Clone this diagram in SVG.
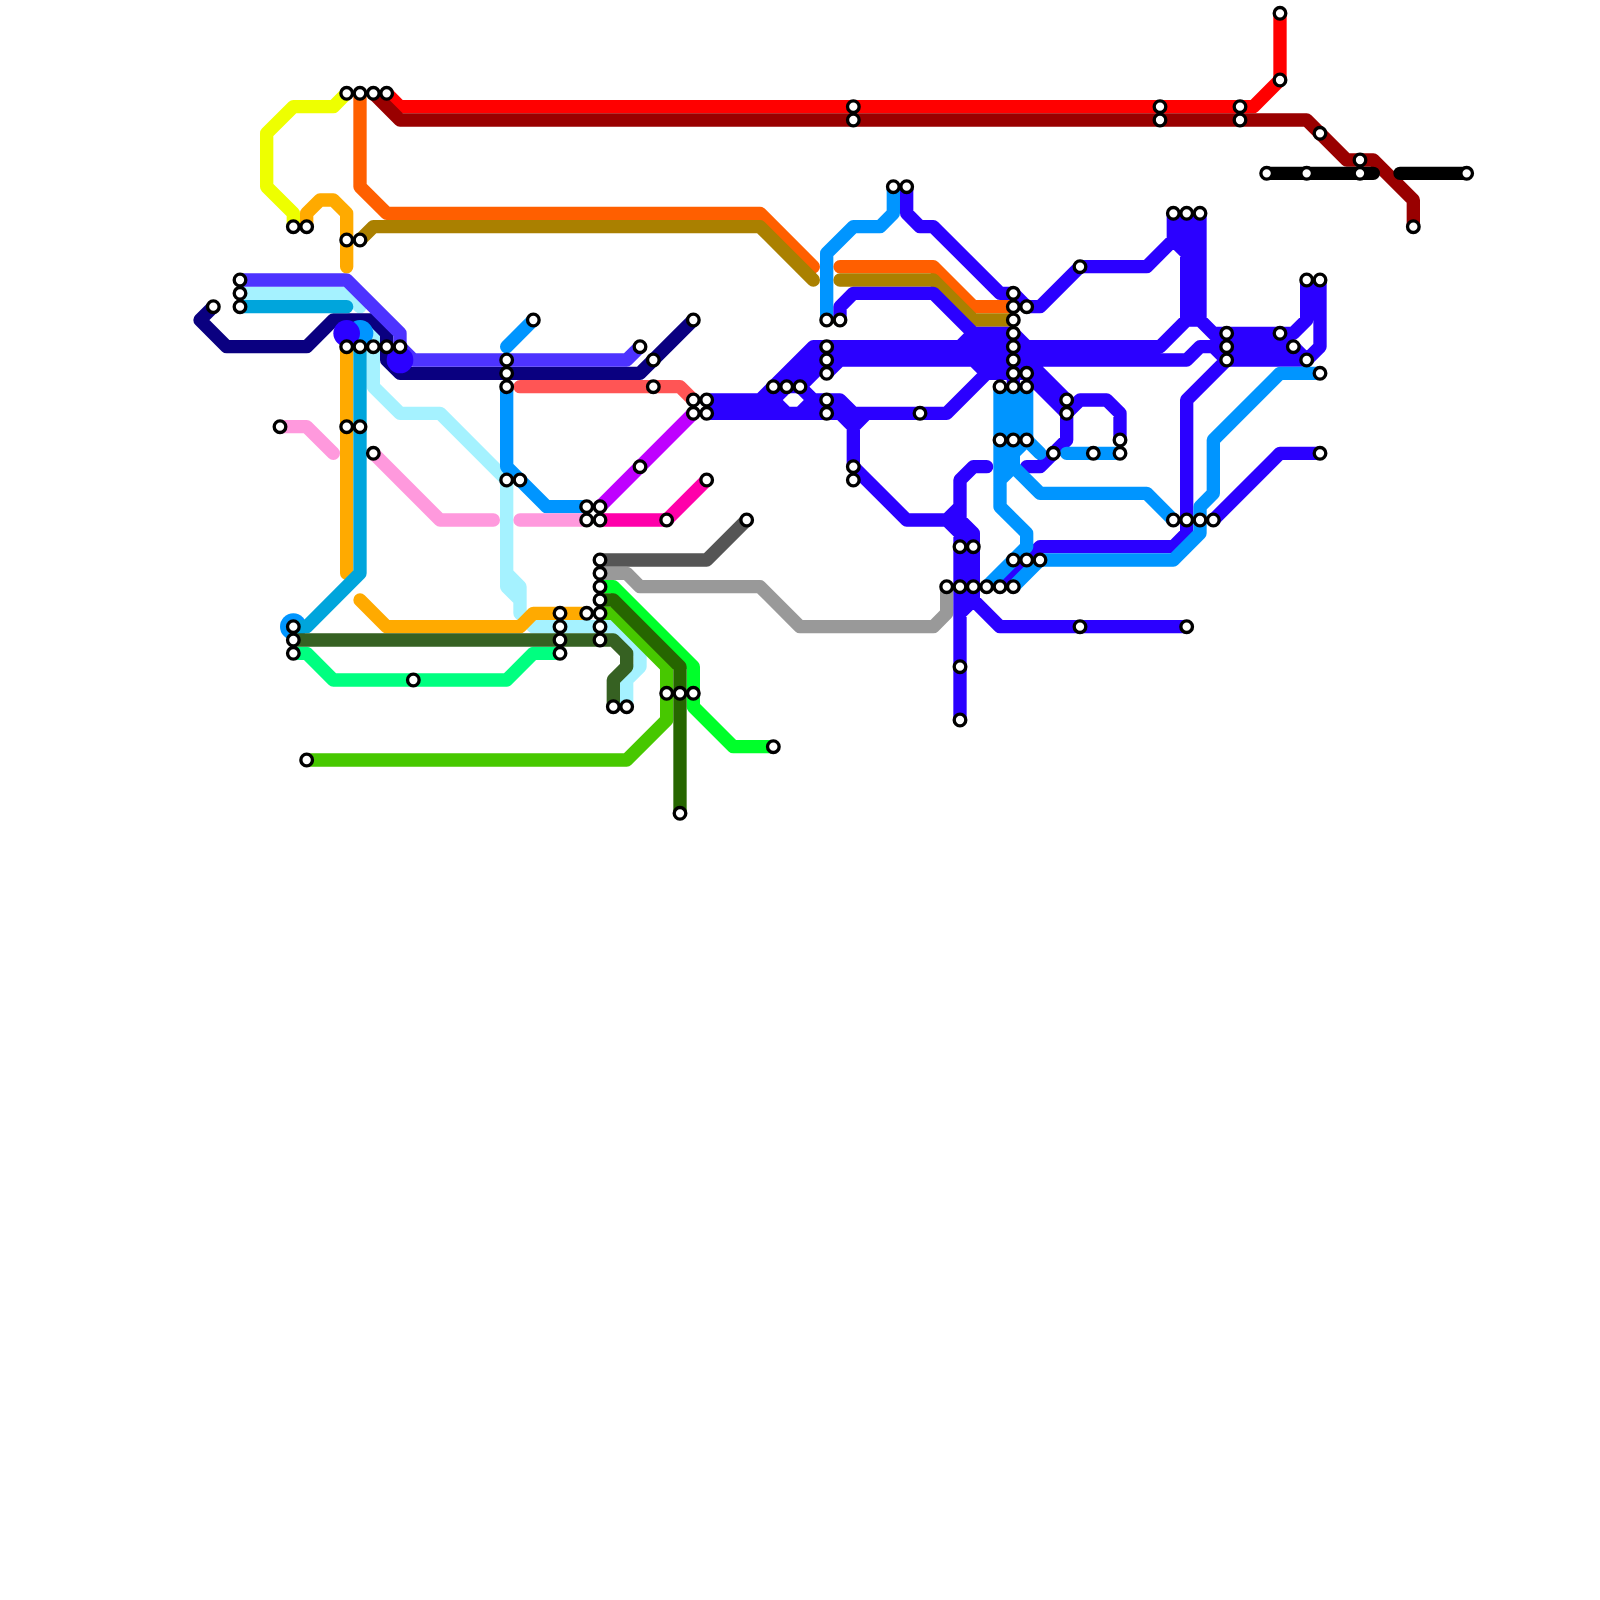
<svg xmlns="http://www.w3.org/2000/svg" width="1600" height="1600" viewBox="0 0 1600 1600">
<style>
.l{fill:none;stroke-width:1;stroke-linecap:round;stroke-linejoin:round}
.s circle{fill:#fff;stroke:#000;stroke-width:.25;r:.435px}
</style>
<rect width="1600" height="1600" fill="#fff"/>
<g transform="scale(13.33333)">
<g id="connectors">
<path class="l" stroke="#a5f2ff" d="M18 22H26L27 23M28 25V29L30 31H33L38 36V44L39 45V46L40 47H46L48 49V50L47 51V53M38 43L39 44V46"/>
<path class="l" stroke="#0a0080" d="M16 23L15 24L17 26H23L25 24H28L29 25V27L30 28H48L52 24"/>
<circle cx="22" cy="47" r="1" fill="#0095ff"/>
<circle cx="27" cy="25" r="1" fill="#0095ff"/>
<circle cx="26" cy="25" r="1" fill="#2b00ff"/>
<path class="l" stroke="#4d33ff" d="M18 21H26L30 25V26L31 27H47L48 26"/>
<circle cx="30" cy="27" r="1" fill="#2b00ff"/>
<path class="l" stroke="#eeff00" d="M26 7L25 8H22L20 10V14L22 16V17"/>
<path class="l" stroke="#ffaa00" d="M23 17V16L24 15H25L26 16V20M26 26V43M27 45L29 47H39L40 46H44"/>
<path class="l" stroke="#00a5dc" d="M18 23H26M27 26V43L23 47H22"/>
<path class="l" stroke="#0095ff" d="M38 26L40 24M38 29V35L41 38H44M62 24V19L64 17H66L67 16V14"/>
<path class="l" stroke="#ff0000" d="M29 7L30 8H94L96 6V1"/>
<path class="l" stroke="#990000" d="M28 7L30 9H98L101 12H103L106 15V17"/>
<path class="l" stroke="#ff5f00" d="M27 7V14L29 16H57L61 20M63 20H70L73 23H76"/>
<path class="l" stroke="#aa8000" d="M27 18L28 17H57L61 21M63 21H70L73 24H76"/>
<path class="l" stroke="#000" d="M95 13H103M105 13H110"/>
<path class="l" stroke="#ff5555" d="M39 29H51L52 30"/>
<path class="l" stroke="#bf00ff" d="M45 38L52 31"/>
<path class="l" stroke="#ff00aa" d="M45 39H50L53 36"/>
<path class="l" stroke="#ff99dd" d="M21 32H23L25 34M28 34L33 39H37M39 39H44"/>
<path class="l" stroke="#555555" d="M45 42H53L56 39"/>
<path class="l" stroke="#999999" d="M45 43H47L48 44H57L60 47H70L71 46V44"/>
<path class="l" stroke="#00ff80" d="M22 49H23L25 51H38L40 49H42"/>
<path class="l" stroke="#00ff2a" d="M45 44H46L52 50V53L55 56H58"/>
<path class="l" stroke="#47c800" d="M23 57H47L50 54V50L46 46H45"/>
<path class="l" stroke="#266600" d="M45 45H46L51 50V61"/>
<path class="l" stroke="#366122" d="M22 48H46L47 49V50L46 51V53"/>
<path class="l" stroke="#2b00ff" d="M68 14V16L69 17H70L75 22H76L77 23H78L81 20H86L88 18M88 16V18L89 19M89 16V24M90 16V24L92 26M63 24V23L64 22H70L73 25H76V29M72 26L73 25M61 26H87L89 24H90M62 27H89L90 26H91L92 27M57 30L61 26M58 30L62 26M60 29L62 27M63 27L62 28M53 30H58L59 29H60L61 30H63L64 31M53 31H71L74 28H77M58 30L59 31M61 30L60 31M63 31L64 32V35L68 39H71L72 38M65 31L64 32M73 27L74 28M74 35H73L72 36V54M71 39L72 40M72 39L73 40V45L75 47H89M72 46L73 45M76 25L78 27M77 27L80 30M77 28L80 31V33L78 35H77M80 31L81 30H83L84 31V33M91 25H97M92 26H97M92 27H98M98 21V24L97 25M99 21V26L98 27M96 25L98 27M92 27L89 30V40L88 41H78L75 44M91 39L96 34H99"/>
<path class="l" stroke="#0095ff" d="M75 29V38L77 40V41L74 44M76 29V35L78 37H86L88 39M77 29V33L78 34M77 33L76 34M76 35L75 36M99 28H96L91 33V37L90 38V40L88 42H78L76 44M80 34H84"/>
</g>
<g class="s">
<g id="n1"><circle cx="26" cy="7"/></g>
<g id="n2"><circle cx="27" cy="7"/></g>
<g id="n3"><circle cx="28" cy="7"/></g>
<g id="n4"><circle cx="29" cy="7"/></g>
<g id="n5"><circle cx="22" cy="17"/></g>
<g id="n6"><circle cx="23" cy="17"/></g>
<g id="n7"><circle cx="26" cy="18"/></g>
<g id="n8"><circle cx="27" cy="18"/></g>
<g id="n9"><circle cx="18" cy="21"/></g>
<g id="n10"><circle cx="18" cy="22"/></g>
<g id="n11"><circle cx="18" cy="23"/></g>
<g id="n12"><circle cx="16" cy="23"/></g>
<g id="n13"><circle cx="26" cy="26"/></g>
<g id="n14"><circle cx="27" cy="26"/></g>
<g id="n15"><circle cx="28" cy="26"/></g>
<g id="n16"><circle cx="29" cy="26"/></g>
<g id="n17"><circle cx="30" cy="26"/></g>
<g id="n18"><circle cx="21" cy="32"/></g>
<g id="n19"><circle cx="26" cy="32"/></g>
<g id="n20"><circle cx="27" cy="32"/></g>
<g id="n21"><circle cx="28" cy="34"/></g>
<g id="n22"><circle cx="38" cy="27"/></g>
<g id="n23"><circle cx="38" cy="28"/></g>
<g id="n24"><circle cx="38" cy="29"/></g>
<g id="n25"><circle cx="40" cy="24"/></g>
<g id="n26"><circle cx="48" cy="26"/></g>
<g id="n27"><circle cx="49" cy="27"/></g>
<g id="n28"><circle cx="49" cy="29"/></g>
<g id="n29"><circle cx="52" cy="24"/></g>
<g id="n30"><circle cx="52" cy="30"/></g>
<g id="n31"><circle cx="53" cy="30"/></g>
<g id="n32"><circle cx="52" cy="31"/></g>
<g id="n33"><circle cx="53" cy="31"/></g>
<g id="n34"><circle cx="48" cy="35"/></g>
<g id="n35"><circle cx="38" cy="36"/></g>
<g id="n36"><circle cx="39" cy="36"/></g>
<g id="n37"><circle cx="44" cy="38"/></g>
<g id="n38"><circle cx="45" cy="38"/></g>
<g id="n39"><circle cx="44" cy="39"/></g>
<g id="n40"><circle cx="45" cy="39"/></g>
<g id="n41"><circle cx="50" cy="39"/></g>
<g id="n42"><circle cx="53" cy="36"/></g>
<g id="n43"><circle cx="56" cy="39"/></g>
<g id="n44"><circle cx="45" cy="42"/></g>
<g id="n45"><circle cx="45" cy="43"/></g>
<g id="n46"><circle cx="45" cy="44"/></g>
<g id="n47"><circle cx="45" cy="45"/></g>
<g id="n48"><circle cx="45" cy="46"/></g>
<g id="n49"><circle cx="45" cy="47"/></g>
<g id="n50"><circle cx="45" cy="48"/></g>
<g id="n51"><circle cx="42" cy="46"/></g>
<g id="n52"><circle cx="42" cy="47"/></g>
<g id="n53"><circle cx="42" cy="48"/></g>
<g id="n54"><circle cx="42" cy="49"/></g>
<g id="n55"><circle cx="44" cy="46"/></g>
<g id="n56"><circle cx="22" cy="47"/></g>
<g id="n57"><circle cx="22" cy="48"/></g>
<g id="n58"><circle cx="22" cy="49"/></g>
<g id="n59"><circle cx="31" cy="51"/></g>
<g id="n60"><circle cx="23" cy="57"/></g>
<g id="n61"><circle cx="46" cy="53"/></g>
<g id="n62"><circle cx="47" cy="53"/></g>
<g id="n63"><circle cx="50" cy="52"/></g>
<g id="n64"><circle cx="51" cy="52"/></g>
<g id="n65"><circle cx="52" cy="52"/></g>
<g id="n66"><circle cx="51" cy="61"/></g>
<g id="n67"><circle cx="58" cy="56"/></g>
<g id="n68"><circle cx="58" cy="29"/></g>
<g id="n69"><circle cx="59" cy="29"/></g>
<g id="n70"><circle cx="60" cy="29"/></g>
<g id="n71"><circle cx="62" cy="24"/></g>
<g id="n72"><circle cx="63" cy="24"/></g>
<g id="n73"><circle cx="62" cy="26"/></g>
<g id="n74"><circle cx="62" cy="27"/></g>
<g id="n75"><circle cx="62" cy="28"/></g>
<g id="n76"><circle cx="62" cy="30"/></g>
<g id="n77"><circle cx="62" cy="31"/></g>
<g id="n78"><circle cx="69" cy="31"/></g>
<g id="n79"><circle cx="64" cy="35"/></g>
<g id="n80"><circle cx="64" cy="36"/></g>
<g id="n81"><circle cx="67" cy="14"/></g>
<g id="n82"><circle cx="68" cy="14"/></g>
<g id="n83"><circle cx="64" cy="8"/></g>
<g id="n84"><circle cx="64" cy="9"/></g>
<g id="n85"><circle cx="87" cy="8"/></g>
<g id="n86"><circle cx="87" cy="9"/></g>
<g id="n87"><circle cx="93" cy="8"/></g>
<g id="n88"><circle cx="93" cy="9"/></g>
<g id="n89"><circle cx="96" cy="1"/></g>
<g id="n90"><circle cx="96" cy="6"/></g>
<g id="n91"><circle cx="99" cy="10"/></g>
<g id="n92"><circle cx="102" cy="12"/></g>
<g id="n93"><circle cx="95" cy="13"/></g>
<g id="n94"><circle cx="98" cy="13"/></g>
<g id="n95"><circle cx="102" cy="13"/></g>
<g id="n96"><circle cx="110" cy="13"/></g>
<g id="n97"><circle cx="106" cy="17"/></g>
<g id="n98"><circle cx="76" cy="22"/></g>
<g id="n99"><circle cx="76" cy="23"/></g>
<g id="n100"><circle cx="77" cy="23"/></g>
<g id="n101"><circle cx="76" cy="24"/></g>
<g id="n102"><circle cx="76" cy="25"/></g>
<g id="n103"><circle cx="76" cy="26"/></g>
<g id="n104"><circle cx="76" cy="27"/></g>
<g id="n105"><circle cx="76" cy="28"/></g>
<g id="n106"><circle cx="77" cy="28"/></g>
<g id="n107"><circle cx="75" cy="29"/></g>
<g id="n108"><circle cx="76" cy="29"/></g>
<g id="n109"><circle cx="77" cy="29"/></g>
<g id="n110"><circle cx="75" cy="33"/></g>
<g id="n111"><circle cx="76" cy="33"/></g>
<g id="n112"><circle cx="77" cy="33"/></g>
<g id="n113"><circle cx="79" cy="34"/></g>
<g id="n114"><circle cx="80" cy="30"/></g>
<g id="n115"><circle cx="80" cy="31"/></g>
<g id="n116"><circle cx="84" cy="33"/></g>
<g id="n117"><circle cx="84" cy="34"/></g>
<g id="n118"><circle cx="82" cy="34"/></g>
<g id="n119"><circle cx="81" cy="20"/></g>
<g id="n120"><circle cx="88" cy="16"/></g>
<g id="n121"><circle cx="89" cy="16"/></g>
<g id="n122"><circle cx="90" cy="16"/></g>
<g id="n123"><circle cx="92" cy="25"/></g>
<g id="n124"><circle cx="92" cy="26"/></g>
<g id="n125"><circle cx="92" cy="27"/></g>
<g id="n126"><circle cx="96" cy="25"/></g>
<g id="n127"><circle cx="97" cy="26"/></g>
<g id="n128"><circle cx="98" cy="27"/></g>
<g id="n129"><circle cx="98" cy="21"/></g>
<g id="n130"><circle cx="99" cy="21"/></g>
<g id="n131"><circle cx="99" cy="28"/></g>
<g id="n132"><circle cx="99" cy="34"/></g>
<g id="n133"><circle cx="88" cy="39"/></g>
<g id="n134"><circle cx="89" cy="39"/></g>
<g id="n135"><circle cx="90" cy="39"/></g>
<g id="n136"><circle cx="91" cy="39"/></g>
<g id="n137"><circle cx="71" cy="44"/></g>
<g id="n138"><circle cx="72" cy="44"/></g>
<g id="n139"><circle cx="73" cy="44"/></g>
<g id="n140"><circle cx="74" cy="44"/></g>
<g id="n141"><circle cx="75" cy="44"/></g>
<g id="n142"><circle cx="76" cy="44"/></g>
<g id="n143"><circle cx="72" cy="41"/></g>
<g id="n144"><circle cx="73" cy="41"/></g>
<g id="n145"><circle cx="76" cy="42"/></g>
<g id="n146"><circle cx="77" cy="42"/></g>
<g id="n147"><circle cx="78" cy="42"/></g>
<g id="n148"><circle cx="72" cy="50"/></g>
<g id="n149"><circle cx="72" cy="54"/></g>
<g id="n150"><circle cx="81" cy="47"/></g>
<g id="n151"><circle cx="89" cy="47"/></g>
</g>
</g>
</svg>
